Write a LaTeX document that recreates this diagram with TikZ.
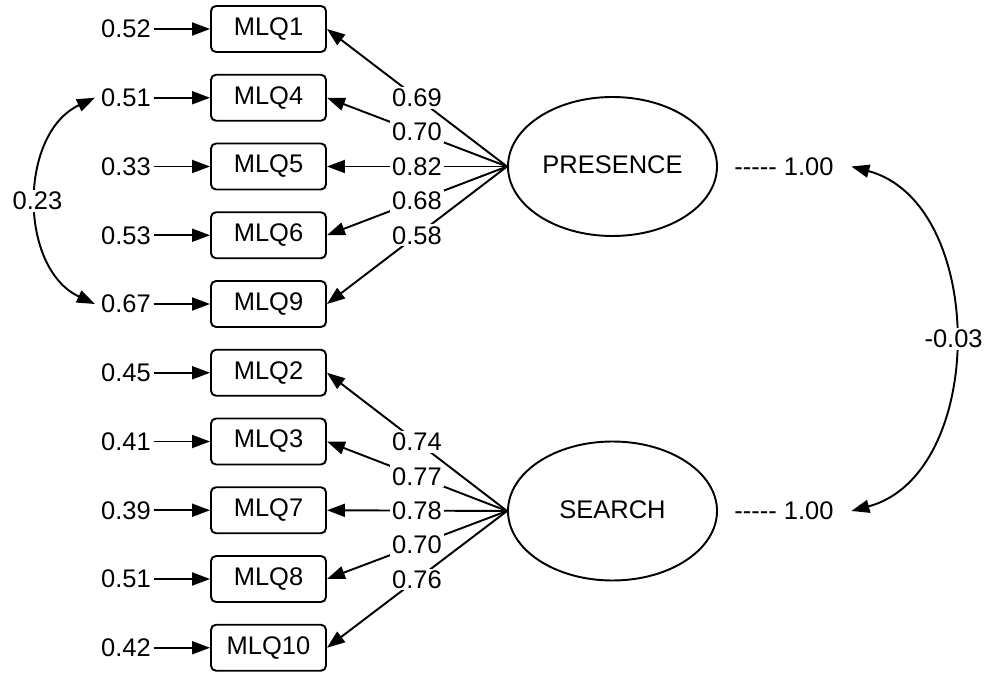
\documentclass[tikz,border=0pt]{standalone}
\usepackage{fontspec}
\newfontfamily\diafont{Liberation Sans}
\usetikzlibrary{arrows.meta,shapes.geometric}

\begin{document}
\begin{tikzpicture}[font=\diafont\fontsize{14.5}{17}\selectfont,
  line width=1.1pt,>={Triangle[length=0.36cm,width=0.26cm]},
  item node/.style={rectangle,draw,rounded corners=0.1cm,minimum width=2.3cm,minimum height=0.92cm,inner sep=0pt},
  latent node/.style={ellipse,draw,minimum width=4.18cm,minimum height=2.78cm,inner sep=0pt},
  err node/.style={anchor=east,inner sep=1pt},
  coef/.style={fill=white,inner sep=1pt}]

  \useasboundingbox (0,0) rectangle (19.74,-13.46);

  % observed items
  \node[item node] (m1) at (5.37,-0.58) {MLQ1};
  \node[item node] (m4) at (5.37,-1.955) {MLQ4};
  \node[item node] (m5) at (5.37,-3.33) {MLQ5};
  \node[item node] (m6) at (5.37,-4.705) {MLQ6};
  \node[item node] (m9) at (5.37,-6.08) {MLQ9};
  \node[item node] (m2) at (5.37,-7.455) {MLQ2};
  \node[item node] (m3) at (5.37,-8.83) {MLQ3};
  \node[item node] (m7) at (5.37,-10.205) {MLQ7};
  \node[item node] (m8) at (5.37,-11.58) {MLQ8};
  \node[item node] (m10) at (5.37,-12.955) {MLQ10};

  % error variances
  \node[err node] (e1) at (3.07,-0.58) {0.52};
  \node[err node] (e4) at (3.07,-1.955) {0.51};
  \node[err node] (e5) at (3.07,-3.33) {0.33};
  \node[err node] (e6) at (3.07,-4.705) {0.53};
  \node[err node] (e9) at (3.07,-6.08) {0.67};
  \node[err node] (e2) at (3.07,-7.455) {0.45};
  \node[err node] (e3) at (3.07,-8.83) {0.41};
  \node[err node] (e7) at (3.07,-10.205) {0.39};
  \node[err node] (e8) at (3.07,-11.58) {0.51};
  \node[err node] (e10) at (3.07,-12.955) {0.42};

  % factors
  \node[latent node] (P) at (12.25,-3.33) {\raisebox{2pt}{PRESENCE}};
  \node[latent node] (S) at (12.25,-10.22) {\raisebox{2pt}{SEARCH}};
  \node (vP) at (15.68,-3.33) {----- 1.00};
  \node (vS) at (15.68,-10.22) {----- 1.00};

  \path[->]
   (e1) edge (m1)
   (e4) edge (m4)
   (e5) edge (m5)
   (e6) edge (m6)
   (e9) edge (m9)
   (e2) edge (m2)
   (e3) edge (m3)
   (e7) edge (m7)
   (e8) edge (m8)
   (e10) edge (m10);

  \path[->,every node/.style={coef}]
   (P.west) edge node{0.69} (m1.east)
   (P.west) edge node{0.70} (m4.east)
   (P.west) edge node{0.82} (m5.east)
   (P.west) edge node{0.68} (m6.east)
   (P.west) edge node{0.58} (m9.east)
   (S.west) edge node{0.74} (m2.east)
   (S.west) edge node{0.77} (m3.east)
   (S.west) edge node{0.78} (m7.east)
   (S.west) edge node{0.70} (m8.east)
   (S.west) edge node{0.76} (m10.east);

  % covariances
  \draw[<->] ([xshift=-2pt]e4.west) to[out=205,in=155,looseness=1.05] node[coef]{0.23} ([xshift=-2pt]e9.west);
  \draw[<->] ([xshift=0.22cm]vP.east) to[out=-15,in=15,looseness=1.05] node[coef]{-0.03} ([xshift=0.22cm]vS.east);
\end{tikzpicture}
\end{document}
